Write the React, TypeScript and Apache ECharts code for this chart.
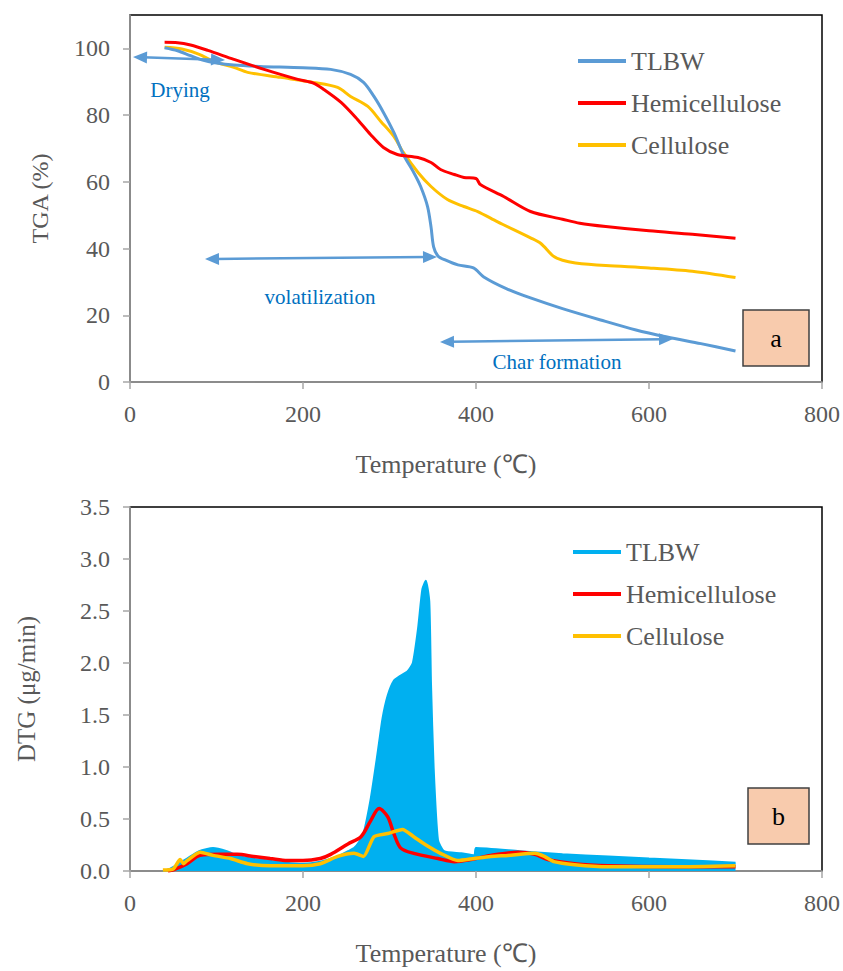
import React, { useEffect, useRef } from 'react';
import * as echarts from 'echarts';

const FONT = '"Liberation Serif", "Times New Roman", serif';
const TEXT_GRAY = '#595959';
const AXIS_GRAY = '#A6A6A6';

// ---------- Chart a: TGA (%) vs Temperature ----------
const seriesNames = ['TLBW', 'Hemicellulose', 'Cellulose'];

const tgaTlbwT = [40, 55, 70, 85, 100, 120, 150, 200, 232, 255, 270, 282, 293, 305, 316, 328, 336, 344, 348, 351, 356, 365, 379, 397, 409, 435, 463, 500, 544, 585, 621, 660, 700];
const tgaTlbwV = [100.2, 99.3, 97.8, 96.4, 95.6, 95.0, 94.6, 94.2, 93.7, 92.2, 89.8, 85.6, 80.8, 74.8, 68.2, 62.8, 58.6, 52.6, 46.5, 40.5, 37.8, 36.5, 35.1, 34.2, 31.5, 28.0, 25.2, 22.0, 18.6, 15.6, 13.5, 11.5, 9.3];

const tgaHemiT = [40, 55, 70, 90, 120, 155, 194, 212, 224, 244, 263, 278, 293, 309, 333, 348, 359, 375, 386, 400, 405, 432, 463, 500, 520, 550, 600, 650, 700];
const tgaHemiV = [101.8, 101.7, 101.0, 99.4, 96.7, 93.7, 90.7, 89.6, 87.7, 83.8, 78.7, 74.2, 70.3, 68.2, 67.3, 65.8, 63.7, 62.2, 61.3, 61.0, 59.2, 55.6, 51.1, 48.8, 47.6, 46.6, 45.3, 44.3, 43.1];

const tgaCellT = [40, 60, 80, 97, 120, 136, 174, 212, 240, 255, 275, 290, 305, 316, 333, 348, 367, 386, 402, 425, 463, 475, 489, 500, 515, 550, 600, 650, 700];
const tgaCellV = [100.3, 99.8, 98.2, 96.0, 94.3, 92.8, 91.3, 89.8, 88.3, 85.6, 82.6, 78.1, 73.6, 68.8, 62.8, 58.6, 54.7, 52.6, 51.1, 48.0, 43.2, 41.5, 37.8, 36.5, 35.7, 34.9, 34.2, 33.2, 31.3];

const tgaTicks = [0, 20, 40, 60, 80, 100];

// ---------- Chart b: DTG (µg/min) vs Temperature ----------
const dtgTlbwT = [38, 46, 56, 66, 80, 96, 112, 124, 140, 160, 180, 200, 220, 240, 252, 259, 265, 270, 278, 286, 292, 298, 305, 313, 321, 327, 333, 338, 342, 346, 348, 351, 356, 363, 383, 398, 400, 450, 500, 553, 600, 650, 700];
const dtgTlbwV = [0, 0.02, 0.07, 0.12, 0.19, 0.22, 0.19, 0.15, 0.12, 0.10, 0.08, 0.07, 0.09, 0.14, 0.19, 0.22, 0.28, 0.36, 0.68, 1.12, 1.47, 1.69, 1.83, 1.88, 1.92, 2.00, 2.33, 2.71, 2.79, 2.59, 1.79, 1.00, 0.30, 0.19, 0.17, 0.15, 0.22, 0.19, 0.16, 0.14, 0.12, 0.10, 0.08];

const dtgHemiT = [44, 50, 66, 81, 104, 124, 143, 162, 182, 200, 220, 232, 252, 267, 278, 288, 298, 305, 313, 328, 356, 375, 394, 417, 449, 468, 483, 514, 553, 630, 700];
const dtgHemiV = [0, 0.01, 0.07, 0.15, 0.16, 0.16, 0.14, 0.12, 0.10, 0.10, 0.12, 0.16, 0.26, 0.33, 0.48, 0.60, 0.52, 0.36, 0.22, 0.17, 0.12, 0.09, 0.11, 0.15, 0.18, 0.16, 0.11, 0.07, 0.05, 0.04, 0.04];

const dtgCellT = [38, 50, 58, 62, 66, 81, 96, 116, 136, 162, 182, 200, 220, 240, 259, 270, 282, 298, 315, 328, 344, 359, 379, 398, 417, 437, 468, 479, 490, 514, 553, 630, 700];
const dtgCellV = [0.01, 0.02, 0.11, 0.07, 0.10, 0.18, 0.15, 0.12, 0.07, 0.05, 0.05, 0.05, 0.07, 0.14, 0.17, 0.14, 0.33, 0.36, 0.40, 0.33, 0.24, 0.17, 0.10, 0.12, 0.14, 0.15, 0.17, 0.14, 0.09, 0.06, 0.04, 0.04, 0.05];

const zip = (xs: number[], ys: number[]) => xs.map((x, i) => [x, ys[i]]);

function arrow(x1: number, y1: number, x2: number, y2: number, color: string) {
  const dx = x2 - x1, dy = y2 - y1;
  const len = Math.sqrt(dx * dx + dy * dy);
  const ux = dx / len, uy = dy / len;
  const nx = -uy, ny = ux;
  const L = 14, W = 6;
  const head = (tx: number, ty: number, sx: number, sy: number) => ({
    type: 'polygon',
    shape: { points: [[tx, ty], [tx - sx * L + nx * W, ty - sy * L + ny * W], [tx - sx * L - nx * W, ty - sy * L - ny * W]] },
    style: { fill: color },
    z: 50,
  });
  return [
    { type: 'line', shape: { x1: x1 + ux * L * 0.7, y1: y1 + uy * L * 0.7, x2: x2 - ux * L * 0.7, y2: y2 - uy * L * 0.7 }, style: { stroke: color, lineWidth: 2.5 }, z: 50 },
    head(x2, y2, ux, uy),
    head(x1, y1, -ux, -uy),
  ];
}

function label(text: string, x: number, y: number, size = 21, color = '#0070C0') {
  return { type: 'text', x, y, z: 50, style: { text, fill: color, fontSize: size, fontFamily: FONT, align: 'center', verticalAlign: 'middle' } };
}

function box(x: number, y: number, w: number, h: number, text: string) {
  return [
    { type: 'rect', shape: { x, y, width: w, height: h }, style: { fill: '#F8CBAD', stroke: '#404040', lineWidth: 1.5 }, z: 50 },
    label(text, x + w / 2, y + h / 2, 26, '#000000'),
  ];
}

function xAxisCfg() {
  return {
    type: 'value', min: 0, max: 800, interval: 200,
    axisLine: { show: true, onZero: false, lineStyle: { color: AXIS_GRAY, width: 1.5 } },
    axisTick: { show: true, length: 7, lineStyle: { color: AXIS_GRAY, width: 1.5 } },
    axisLabel: { color: TEXT_GRAY, fontFamily: FONT, fontSize: 24, margin: 20 },
    splitLine: { show: false },
    name: 'Temperature (℃)', nameLocation: 'middle', nameGap: 69,
    nameTextStyle: { color: TEXT_GRAY, fontFamily: FONT, fontSize: 26, padding: [0, 60, 0, 0] },
  };
}

function legendCfg(left: number, top: number) {
  return {
    orient: 'vertical', left, top, itemWidth: 48, itemHeight: 4, itemGap: 12, icon: 'rect',
    textStyle: { color: TEXT_GRAY, fontFamily: FONT, fontSize: 26, lineHeight: 30 },
    data: seriesNames,
  };
}

export default function App() {
  const topRef = useRef<HTMLDivElement>(null);
  const botRef = useRef<HTMLDivElement>(null);

  useEffect(() => {
    document.body.style.margin = '0';
    const top = echarts.init(topRef.current!, null, { renderer: 'svg' });
    const bot = echarts.init(botRef.current!, null, { renderer: 'svg' });

    top.setOption({
      animation: false,
      backgroundColor: '#ffffff',
      grid: { show: true, left: 130, right: 21, top: 15, bottom: 103, borderColor: '#000000', borderWidth: 1.5 },
      legend: legendCfg(573, 41),
      xAxis: xAxisCfg(),
      yAxis: {
        type: 'value', min: 0, max: 110, interval: 20,
        axisLine: { show: true, lineStyle: { color: AXIS_GRAY, width: 1.5 } },
        axisTick: { show: true, length: 7, lineStyle: { color: AXIS_GRAY, width: 1.5 }, customValues: tgaTicks },
        axisLabel: { color: TEXT_GRAY, fontFamily: FONT, fontSize: 24, margin: 20, customValues: tgaTicks },
        splitLine: { show: false },
        name: 'TGA (%)', nameLocation: 'middle', nameGap: 78,
        nameTextStyle: { color: TEXT_GRAY, fontFamily: FONT, fontSize: 24 },
      },
      series: [
        { name: 'TLBW', type: 'line', data: zip(tgaTlbwT, tgaTlbwV), showSymbol: false, smooth: 0.3, lineStyle: { color: '#5B9BD5', width: 3 }, itemStyle: { color: '#5B9BD5' }, z: 3 },
        { name: 'Hemicellulose', type: 'line', data: zip(tgaHemiT, tgaHemiV), showSymbol: false, smooth: 0.3, lineStyle: { color: '#FF0000', width: 3 }, itemStyle: { color: '#FF0000' }, z: 4 },
        { name: 'Cellulose', type: 'line', data: zip(tgaCellT, tgaCellV), showSymbol: false, smooth: 0.3, lineStyle: { color: '#FFC000', width: 3 }, itemStyle: { color: '#FFC000' }, z: 2 },
      ],
      graphic: [
        ...arrow(133, 57, 225, 60, '#5B9BD5'),
        label('Drying', 180, 90),
        ...arrow(205, 259, 437, 257, '#5B9BD5'),
        label('volatilization', 320, 297),
        ...arrow(440, 342, 673, 339, '#5B9BD5'),
        label('Char formation', 557, 362),
        ...box(743, 310, 66, 56, 'a'),
      ],
    });

    bot.setOption({
      animation: false,
      backgroundColor: '#ffffff',
      grid: { show: true, left: 130, right: 21, top: 22, bottom: 96, borderColor: '#000000', borderWidth: 1.5 },
      legend: legendCfg(568, 47),
      xAxis: xAxisCfg(),
      yAxis: {
        type: 'value', min: 0, max: 3.5, interval: 0.5,
        axisLine: { show: true, lineStyle: { color: AXIS_GRAY, width: 1.5 } },
        axisTick: { show: true, length: 7, lineStyle: { color: AXIS_GRAY, width: 1.5 } },
        axisLabel: { color: TEXT_GRAY, fontFamily: FONT, fontSize: 24, margin: 20, formatter: (v: number) => v.toFixed(1) },
        splitLine: { show: false },
        name: 'DTG (μg/min)', nameLocation: 'middle', nameGap: 91,
        nameTextStyle: { color: TEXT_GRAY, fontFamily: FONT, fontSize: 25 },
      },
      series: [
        { name: 'TLBW', type: 'line', data: zip(dtgTlbwT, dtgTlbwV), showSymbol: false, smooth: 0.2, lineStyle: { color: '#00B0F0', width: 2 }, itemStyle: { color: '#00B0F0' }, areaStyle: { color: '#00B0F0', opacity: 1 } },
        { name: 'Hemicellulose', type: 'line', data: zip(dtgHemiT, dtgHemiV), showSymbol: false, smooth: 0.3, lineStyle: { color: '#FF0000', width: 3.5 }, itemStyle: { color: '#FF0000' } },
        { name: 'Cellulose', type: 'line', data: zip(dtgCellT, dtgCellV), showSymbol: false, smooth: 0.2, lineStyle: { color: '#FFC000', width: 3.5 }, itemStyle: { color: '#FFC000' } },
      ],
      graphic: [
        ...box(748, 303, 61, 56, 'b'),
      ],
    });

    return () => { top.dispose(); bot.dispose(); };
  }, []);

  return (
    <div style={{ position: 'absolute', left: 0, top: 0, width: 843, height: 971, background: '#ffffff' }}>
      <div ref={topRef} style={{ width: 843, height: 485 }} />
      <div ref={botRef} style={{ width: 843, height: 486 }} />
    </div>
  );
}
